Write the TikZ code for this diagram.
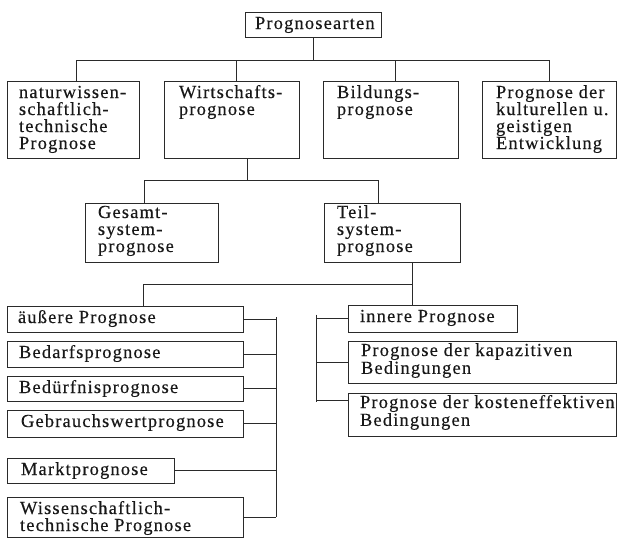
\documentclass[tikz,border=0pt]{standalone}
\usepackage{fontspec}
\setmainfont{Liberation Serif}[LetterSpace=6.5,FakeBold=0.4]
\definecolor{linec}{HTML}{2A2A2A}
\definecolor{textc}{HTML}{181818}
\begin{document}
\begin{tikzpicture}[x=1pt,y=-1pt,
  box/.style={draw=linec, line width=0.9pt, inner sep=0pt, outer sep=0pt, anchor=north west},
  txt/.style={inner sep=0pt, outer sep=0pt, anchor=base west, text=textc, font=\fontsize{18.4pt}{17pt}\selectfont},
  conn/.style={draw=linec, line width=0.9pt}]
\useasboundingbox (0,0) rectangle (617,538);
% boxes
\node[box, minimum width=136pt, minimum height=25pt] (top) at (245,12) {};
\node[box, minimum width=132pt, minimum height=77pt] (b1) at (7,81) {};
\node[box, minimum width=135pt, minimum height=77pt] (b2) at (164,81) {};
\node[box, minimum width=135pt, minimum height=77pt] (b3) at (323,81) {};
\node[box, minimum width=134pt, minimum height=77pt] (b4) at (482,81) {};
\node[box, minimum width=133pt, minimum height=59pt] (ges) at (85,203) {};
\node[box, minimum width=136pt, minimum height=59pt] (teil) at (324,203) {};
\node[box, minimum width=236pt, minimum height=26pt] (aus) at (7,306) {};
\node[box, minimum width=236pt, minimum height=26pt] (bed) at (7,341) {};
\node[box, minimum width=236pt, minimum height=25pt] (bdf) at (7,376) {};
\node[box, minimum width=236pt, minimum height=27pt] (geb) at (7,410) {};
\node[box, minimum width=167pt, minimum height=25pt] (mar) at (7,458) {};
\node[box, minimum width=236pt, minimum height=40pt] (wis) at (7,497) {};
\node[box, minimum width=169pt, minimum height=27pt] (inn) at (348,305) {};
\node[box, minimum width=268pt, minimum height=42pt] (kap) at (348,341) {};
\node[box, minimum width=268pt, minimum height=43pt] (kos) at (348,393) {};
% texts
\node[txt] (ttop) at ([shift={(10,17)}]top.north west) {Prognosearten};
\node[txt] (tb1) at ([shift={(12,17)}]b1.north west) {\parbox[t]{130pt}{naturwissen-\\schaftlich-\\technische\\Prognose}};
\node[txt] (tb2) at ([shift={(15,17)}]b2.north west) {\parbox[t]{130pt}{Wirtschafts-\\prognose}};
\node[txt] (tb3) at ([shift={(14,17)}]b3.north west) {\parbox[t]{130pt}{Bildungs-\\prognose}};
\node[txt] (tb4) at ([shift={(14,17)}]b4.north west) {\parbox[t]{130pt}{Prognose der\\kulturellen u.\\geistigen\\Entwicklung}};
\node[txt] (tges) at ([shift={(13,15)}]ges.north west) {\parbox[t]{130pt}{Gesamt-\\system-\\prognose}};
\node[txt] (tteil) at ([shift={(13,15)}]teil.north west) {\parbox[t]{130pt}{Teil-\\system-\\prognose}};
\node[txt] (taus) at ([shift={(11,17)}]aus.north west) {äußere Prognose};
\node[txt] (tbed) at ([shift={(12,17)}]bed.north west) {Bedarfsprognose};
\node[txt] (tbdf) at ([shift={(12,17)}]bdf.north west) {Bedürfnisprognose};
\node[txt] (tgeb) at ([shift={(14,17)}]geb.north west) {Gebrauchswertprognose};
\node[txt] (tmar) at ([shift={(14,17)}]mar.north west) {Marktprognose};
\node[txt] (twis) at ([shift={(13,17)}]wis.north west) {\parbox[t]{230pt}{Wissenschaftlich-\\technische Prognose}};
\node[txt] (tinn) at ([shift={(12,17)}]inn.north west) {innere Prognose};
\node[txt] (tkap) at ([shift={(13,15)}]kap.north west) {\begin{tabular}[t]{@{}l@{}}Prognose der kapazitiven\\Bedingungen\end{tabular}};
\node[txt] (tkos) at ([shift={(12,15)}]kos.north west) {\begin{tabular}[t]{@{}l@{}}Prognose der kosteneffektiven\\Bedingungen\end{tabular}};
% junction coordinates
\coordinate (busL) at (76,60);
\coordinate (busR) at (549,60);
\coordinate (j2) at (236,60);
\coordinate (j3) at (395,60);
\coordinate (k1) at (247,180);
\coordinate (r3a) at (144,180);
\coordinate (r3b) at (378,180);
\coordinate (r4a) at (143,284);
\coordinate (r4b) at (412,284);
\coordinate (brR) at (276,0);
\coordinate (brL) at (316,0);
\coordinate (kosS) at ([yshift=14.5pt]kos.west);
% connectors
\draw[conn] (top.south) -- (top.south |- busL);
\draw[conn] (busL) -- (busR);
\draw[conn] (busL) -- (busL |- b1.north);
\draw[conn] (j2) -- (j2 |- b2.north);
\draw[conn] (j3) -- (j3 |- b3.north);
\draw[conn] (busR) -- (busR |- b4.north);
\draw[conn] (k1 |- b2.south) -- (k1);
\draw[conn] (r3a) -- (r3b);
\draw[conn] (r3a) -- (r3a |- ges.north);
\draw[conn] (r3b) -- (r3b |- teil.north);
\draw[conn] (r4b |- teil.south) -- (r4b |- inn.north);
\draw[conn] (r4a) -- (r4b);
\draw[conn] (r4a) -- (r4a |- aus.north);
% left group bracket
\draw[conn] (aus.east) -- (aus.east -| brR);
\draw[conn] (bed.east) -- (bed.east -| brR);
\draw[conn] (bdf.east) -- (bdf.east -| brR);
\draw[conn] (geb.east) -- (geb.east -| brR);
\draw[conn] (mar.east) -- (mar.east -| brR);
\draw[conn] (wis.east) -- (wis.east -| brR);
\draw[conn] ([yshift=2pt]aus.east -| brR) -- (wis.east -| brR);
% right group bracket
\draw[conn] (inn.west) -- (inn.west -| brL);
\draw[conn] (kap.west) -- (kap.west -| brL);
\draw[conn] (kosS) -- (kosS -| brL);
\draw[conn] ([yshift=4pt]inn.west -| brL) -- ([yshift=-2pt]kosS -| brL);
\end{tikzpicture}
\end{document}
